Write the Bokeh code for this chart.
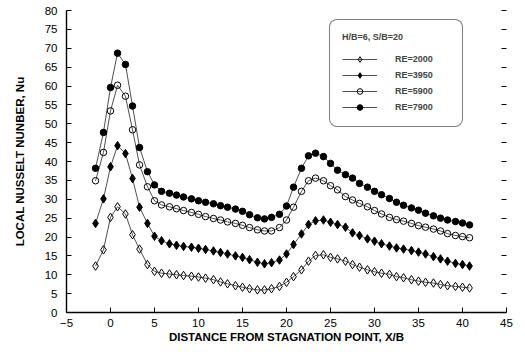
from bokeh.plotting import figure
from bokeh.models import (Range1d, LinearAxis, SingleIntervalTicker, Legend, LegendItem,
                          CustomJSTickFormatter)
from bokeh.embed import file_html
from bokeh.resources import INLINE

# Distance from stagnation point, X/B
x_b = [-1.7, -0.8, 0.0, 0.8, 1.7, 2.5, 3.3, 4.2, 5.0, 5.8, 6.7, 7.5, 8.3, 9.2,
       10.0, 10.8, 11.7, 12.5, 13.3, 14.2, 15.0, 15.8, 16.7, 17.5, 18.3, 19.2,
       20.0, 20.8, 21.7, 22.5, 23.3, 24.2, 25.0, 25.8, 26.7, 27.5, 28.3, 29.2,
       30.0, 30.8, 31.7, 32.5, 33.3, 34.2, 35.0, 35.8, 36.7, 37.5, 38.3, 39.2,
       40.0, 40.8]

nu_re2000 = [12.3, 16.6, 25.2, 28.0, 26.1, 20.6, 16.8, 12.7, 10.9, 10.4, 10.2, 10.0,
             9.8, 9.6, 9.4, 9.1, 8.7, 8.1, 7.6, 7.1, 6.7, 6.3, 6.0, 6.0, 6.3, 6.9,
             8.0, 9.5, 11.3, 13.6, 15.1, 15.3, 14.6, 14.2, 13.6, 12.7, 12.0, 11.3,
             10.8, 10.4, 10.1, 9.5, 9.2, 8.7, 8.3, 8.0, 7.8, 7.4, 7.1, 6.9, 6.7, 6.5]

nu_re3950 = [23.6, 30.1, 38.6, 44.2, 42.1, 35.5, 27.9, 23.6, 20.2, 19.0, 18.2, 17.8,
             17.5, 17.3, 17.0, 16.7, 16.3, 15.9, 15.5, 15.0, 14.6, 14.0, 13.3, 12.9,
             13.2, 13.9, 15.5, 18.0, 20.8, 23.3, 24.3, 24.5, 23.9, 23.3, 22.6, 21.1,
             20.4, 19.5, 18.9, 18.2, 17.6, 17.1, 16.8, 16.4, 16.0, 15.5, 14.8, 14.2,
             13.6, 13.0, 12.7, 12.3]

nu_re5900 = [34.9, 42.4, 53.4, 60.2, 57.3, 48.4, 39.1, 33.3, 29.6, 28.5, 28.0, 27.5,
             27.0, 26.5, 26.0, 25.4, 24.9, 24.5, 24.0, 23.6, 23.1, 22.5, 21.9, 21.6,
             21.6, 22.5, 24.5, 27.9, 32.1, 34.9, 35.6, 34.9, 33.6, 32.5, 30.7, 29.8,
             28.9, 28.0, 27.0, 26.1, 25.2, 24.6, 24.2, 23.6, 23.0, 22.6, 22.1, 21.6,
             20.9, 20.4, 20.1, 19.8]

nu_re7900 = [38.2, 47.7, 59.6, 68.7, 65.7, 54.7, 43.7, 37.3, 33.8, 32.1, 31.6, 31.1,
             30.6, 30.1, 29.6, 29.2, 28.8, 28.3, 27.9, 27.4, 26.8, 25.9, 25.1, 24.8,
             25.2, 26.0, 28.2, 33.2, 38.2, 41.5, 42.2, 41.3, 39.5, 37.7, 36.5, 35.6,
             34.2, 33.2, 32.1, 31.2, 30.2, 29.2, 28.4, 27.7, 27.1, 26.3, 25.6, 25.0,
             24.5, 24.1, 23.7, 23.2]

labels = ["RE=2000", "RE=3950", "RE=5900", "RE=7900"]
legend_title = "H/B=6, S/B=20"
x_title = "DISTANCE FROM STAGNATION POINT, X/B"
y_title = "LOCAL NUSSELT NUNBER, Nu"

FONT = "Liberation Sans"

p = figure(width=525, height=352, x_range=Range1d(-5, 45), y_range=Range1d(0, 80),
           output_backend="svg", toolbar_location=None,
           min_border_left=66, min_border_right=19, min_border_top=10, min_border_bottom=40)
p.outline_line_color = None
p.xgrid.visible = False
p.ygrid.visible = False
p.background_fill_color = "white"
p.border_fill_color = "white"

for ax, title in ((p.xaxis[0], x_title), (p.yaxis[0], y_title)):
    ax.ticker = SingleIntervalTicker(interval=5, num_minor_ticks=0)
    ax.axis_label = title
    ax.axis_label_text_font = FONT
    ax.axis_label_text_font_style = "bold"
    ax.axis_label_text_font_size = "11.5px"
    ax.major_label_text_font = FONT
    ax.major_label_text_font_size = "11.5px"
    ax.major_label_text_color = "black"
    ax.axis_label_text_color = "black"
    ax.major_tick_in = 5
    ax.major_tick_out = 0
    ax.minor_tick_in = 0
    ax.minor_tick_out = 0
    ax.axis_line_color = "black"
    ax.axis_line_width = 1.4
    ax.major_tick_line_color = "black"

p.xaxis.major_label_standoff = 6
p.xaxis.axis_label_standoff = 1
p.yaxis.major_label_standoff = 9
p.yaxis.axis_label_standoff = 16

right = LinearAxis(ticker=SingleIntervalTicker(interval=5, num_minor_ticks=0),
                   formatter=CustomJSTickFormatter(code="return ''"))
right.major_tick_in = 5
right.major_tick_out = 0
right.minor_tick_in = 0
right.minor_tick_out = 0
right.axis_line_alpha = 0
right.major_tick_line_color = "black"
p.add_layout(right, "right")

series = [nu_re2000, nu_re3950, nu_re5900, nu_re7900]
styles = [("diamond", None, 8.5), ("diamond", "black", 8.5),
          ("circle", None, 6.5), ("circle", "black", 6.5)]

items = []
for lab, ys, (mk, fill, sz) in zip(labels, series, styles):
    ln = p.line(x_b, ys, line_color="#222222", line_width=0.8)
    sc = p.scatter(x_b, ys, marker=mk, size=sz, fill_color=fill,
                   line_color="black", line_width=1)
    items.append(LegendItem(label=lab, renderers=[ln, sc]))

legend = Legend(items=items, location=(263, 185))
legend.title = legend_title
legend.title_text_font = FONT
legend.title_text_font_style = "bold"
legend.title_text_font_size = "9px"
legend.title_standoff = 10
legend.label_text_font = FONT
legend.label_text_font_style = "bold"
legend.label_text_font_size = "9px"
legend.glyph_width = 35
legend.glyph_height = 14
legend.label_standoff = 18
legend.label_width = 55
legend.spacing = 2
legend.padding = 12
legend.margin = 0
legend.border_line_color = "black"
legend.border_line_width = 1.2
legend.background_fill_color = "white"
try:
    legend.border_radius = 8
except Exception:
    pass
p.add_layout(legend)

open("out.html", "w").write(file_html(p, INLINE))
